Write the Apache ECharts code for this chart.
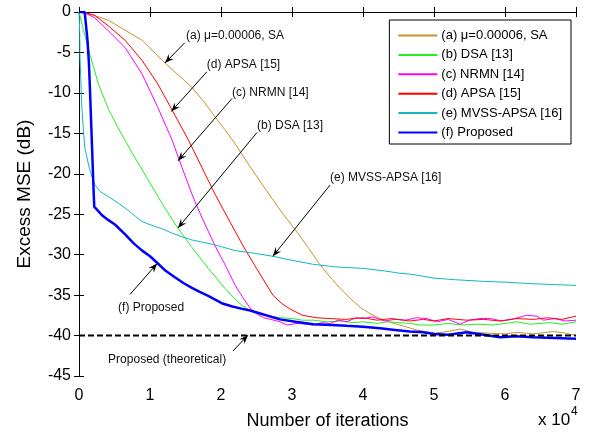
<!DOCTYPE html>
<html>
<head>
<meta charset="utf-8">
<script src="https://cdn.jsdelivr.net/npm/echarts@6/dist/echarts.min.js"></script>
<style>
html, body { margin: 0; padding: 0; background: #fff; }
#main { width: 595px; height: 435px; }
</style>
</head>
<body>
<div id="main"></div>
<script>
// x in units of 10^4 iterations, y = excess MSE in dB
var names = ['(a) \u03bc=0.00006, SA', '(b) DSA [13]', '(c) NRMN [14]', '(d) APSA [15]', '(e) MVSS-APSA [16]', '(f) Proposed'];

var xSA = [0, 0.2, 0.41, 0.6, 0.89, 1.05, 1.21, 1.4, 1.59, 1.75, 1.92, 2.05, 2.2, 2.4, 2.65, 2.85, 3.07, 3.25, 3.39, 3.55, 3.68, 3.82, 3.96, 4.1, 4.24, 4.4, 4.56, 4.75, 5.0, 5.2, 5.37, 5.55, 5.75, 6.0, 6.17, 6.4, 6.68, 6.85, 7.0];
var ySA = [0, -0.4, -1.0, -2.0, -3.5, -4.9, -6.3, -7.8, -9.3, -11.0, -13.0, -14.5, -16.3, -19.0, -22.2, -24.7, -27.2, -29.4, -31.2, -32.9, -34.2, -35.4, -36.5, -37.3, -37.9, -38.4, -38.8, -39.3, -39.7, -39.5, -39.2, -39.6, -39.7, -39.8, -39.6, -39.8, -39.5, -39.7, -40.0];

var xDSA = [0, 0.05, 0.13, 0.27, 0.41, 0.55, 0.65, 0.76, 0.89, 1.03, 1.2, 1.39, 1.59, 1.82, 2.06, 2.2, 2.3, 2.41, 2.55, 2.69, 2.85, 3.0, 3.15, 3.3, 3.5, 3.7, 3.85, 4.0, 4.2, 4.35, 4.52, 4.66, 4.8, 5.0, 5.2, 5.4, 5.6, 5.83, 6.0, 6.17, 6.35, 6.5, 6.63, 6.8, 7.0];
var yDSA = [0, -1.8, -4.5, -8.8, -11.9, -14.3, -15.9, -17.6, -19.5, -21.6, -24.1, -26.7, -29.1, -31.7, -34.2, -35.5, -36.3, -36.9, -37.3, -37.6, -37.8, -37.9, -38.1, -38.1, -38.3, -38.2, -38.4, -38.3, -38.5, -38.3, -38.4, -38.5, -38.7, -38.7, -38.5, -38.7, -38.6, -38.7, -38.5, -38.3, -38.6, -38.5, -38.4, -38.6, -38.3];

var xNRMN = [0, 0.1, 0.22, 0.41, 0.65, 0.89, 1.11, 1.31, 1.45, 1.59, 1.7, 1.82, 1.94, 2.06, 2.2, 2.3, 2.41, 2.5, 2.6, 2.7, 2.83, 2.93, 3.07, 3.2, 3.3, 3.42, 3.54, 3.65, 3.77, 3.9, 4.0, 4.14, 4.3, 4.45, 4.6, 4.75, 4.9, 5.05, 5.2, 5.37, 5.5, 5.65, 5.8, 5.95, 6.1, 6.3, 6.45, 6.54, 6.7, 6.85, 7.0];
var yNRMN = [0, -0.2, -0.7, -2.3, -4.4, -7.7, -11.8, -15.8, -19.2, -22.5, -24.8, -27.1, -29.3, -31.3, -33.8, -35.2, -36.6, -37.3, -37.8, -38.0, -38.3, -38.7, -38.5, -38.6, -38.7, -38.4, -38.5, -38.1, -38.3, -37.8, -37.9, -37.7, -38.2, -38.0, -38.1, -37.8, -37.9, -38.3, -38.0, -38.6, -38.1, -37.9, -37.9, -38.2, -38.0, -37.5, -37.6, -38.1, -37.9, -38.2, -38.1];

var xAPSA = [0, 0.1, 0.22, 0.41, 0.65, 0.89, 1.11, 1.31, 1.54, 1.73, 1.92, 2.13, 2.31, 2.5, 2.73, 2.85, 2.97, 3.15, 3.35, 3.54, 3.75, 4.0, 4.2, 4.4, 4.66, 4.85, 5.0, 5.2, 5.46, 5.7, 5.93, 6.15, 6.4, 6.6, 6.8, 7.0];
var yAPSA = [0, -0.1, -0.4, -1.7, -3.5, -6.0, -8.9, -12.1, -15.8, -19.2, -22.6, -26.0, -28.9, -31.7, -35.0, -36.0, -36.7, -37.5, -37.8, -37.9, -38.0, -37.8, -38.1, -37.9, -38.2, -38.0, -38.2, -37.9, -38.1, -38.0, -38.2, -37.9, -38.0, -37.8, -38.0, -37.6];

var xMVSS = [0, 0.01, 0.014, 0.04, 0.08, 0.15, 0.22, 0.3, 0.41, 0.55, 0.69, 0.8, 0.89, 1.0, 1.17, 1.3, 1.45, 1.6, 1.82, 2.0, 2.2, 2.45, 2.73, 3.0, 3.3, 3.6, 4.0, 4.3, 4.52, 4.66, 5.0, 5.3, 5.7, 6.0, 6.4, 6.7, 7.0];
var yMVSS = [0, -2.5, -5.6, -11.8, -16.7, -19.5, -21.3, -22.2, -22.8, -23.6, -24.5, -25.3, -25.9, -26.3, -26.8, -27.3, -27.8, -28.2, -28.6, -29.0, -29.5, -29.8, -30.2, -30.7, -31.2, -31.5, -31.7, -32.0, -32.3, -32.4, -32.9, -33.1, -33.3, -33.4, -33.6, -33.7, -33.8];

var xProp = [0, 0.08, 0.12, 0.14, 0.155, 0.18, 0.2, 0.215, 0.25, 0.32, 0.41, 0.51, 0.65, 0.77, 0.89, 1.0, 1.1, 1.22, 1.35, 1.47, 1.59, 1.7, 1.82, 2.01, 2.16, 2.3, 2.41, 2.6, 2.83, 3.05, 3.3, 3.55, 3.77, 4.0, 4.24, 4.45, 4.66, 4.85, 5.0, 5.2, 5.46, 5.7, 5.93, 6.15, 6.4, 6.7, 7.0];
var yProp = [0, 0, -3.5, -6.4, -9.7, -15.8, -20.8, -24.1, -24.4, -25.1, -25.7, -26.3, -27.5, -28.6, -29.5, -30.2, -31.0, -32.0, -32.8, -33.5, -34.1, -34.6, -35.1, -36.0, -36.4, -36.7, -36.9, -37.4, -38.0, -38.3, -38.6, -38.7, -38.8, -38.9, -39.1, -39.3, -39.5, -39.6, -39.8, -39.9, -39.6, -39.9, -40.2, -40.1, -40.2, -40.3, -40.4];

var xTheory = [0, 7];
var yTheory = [-40, -40];

var colors = ['#c8922c', '#22ee22', '#ff00ff', '#ff0000', '#10b8c0', '#0000ff'];

// annotation: text, text anchor (left, middle), arrow start, arrow tip -- in data units
var annotations = [
    ['(a) \u03bc=0.00006, SA', [1.507, -2.95], [1.49, -3.8], [1.21, -6.3]],
    ['(d) APSA [15]', [1.80, -6.5], [1.80, -7.4], [1.30, -12.3]],
    ['(c) NRMN [14]', [2.155, -10.0], [2.155, -10.7], [1.394, -18.4]],
    ['(b) DSA [13]', [2.507, -14.1], [2.507, -14.9], [1.394, -26.7]],
    ['(e) MVSS-APSA [16]', [3.535, -20.5], [3.535, -21.4], [2.73, -30.2]],
    ['(f) Proposed', [0.55, -36.5], [0.72, -34.9], [1.10, -31.1]],
    ['Proposed (theoretical)', [0.41, -43.0], [2.17, -41.9], [2.38, -39.95]]
];

var FONT = '"Liberation Sans", Arial, sans-serif';

function pairs(xs, ys) {
    return xs.map(function (x, i) { return [x, ys[i]]; });
}

var allX = [xSA, xDSA, xNRMN, xAPSA, xMVSS, xProp];
var allY = [ySA, yDSA, yNRMN, yAPSA, yMVSS, yProp];

var series = names.map(function (n, i) {
    return {
        name: n,
        type: 'line',
        symbol: 'none',
        data: pairs(allX[i], allY[i]),
        lineStyle: { color: colors[i], width: i == 5 ? 2.5 : 1 },
        itemStyle: { color: colors[i] },
        z: 2 + i
    };
});
series.push({
    name: 'Proposed (theoretical)',
    type: 'line',
    symbol: 'none',
    data: pairs(xTheory, yTheory),
    lineStyle: { color: '#000', width: 2, type: [6, 3] },
    z: 10
});

var chart = echarts.init(document.getElementById('main'), null, { renderer: 'canvas' });

var axisBase = {
    axisLine: { lineStyle: { color: '#000', width: 1 } },
    axisTick: { inside: true, length: 5, lineStyle: { color: '#000' } },
    splitLine: { show: false }
};

var option = {
    animation: false,
    backgroundColor: '#fff',
    textStyle: { fontFamily: FONT },
    grid: { left: 79, right: 19, top: 12, bottom: 57 },
    legend: {
        data: names,
        orient: 'vertical',
        right: 24,
        top: 20,
        itemWidth: 39,
        itemHeight: 12,
        itemGap: 6.4,
        padding: [9, 9, 5, 8],
        backgroundColor: '#fff',
        borderColor: '#000',
        borderWidth: 1,
        itemStyle: { opacity: 0 },
        textStyle: { fontSize: 13, color: '#000', fontFamily: FONT, padding: [0, 0, 0, -1] }
    },
    xAxis: [Object.assign({
        type: 'value', min: 0, max: 7, interval: 1,
        name: 'Number of iterations', nameLocation: 'middle', nameGap: 36,
        nameTextStyle: { fontSize: 18, color: '#000', fontFamily: FONT },
        axisLabel: { fontSize: 16, color: '#000', margin: 12, fontFamily: FONT }
    }, axisBase), Object.assign({
        type: 'value', min: 0, max: 7, interval: 1, position: 'top',
        axisLabel: { show: false }
    }, axisBase)],
    yAxis: [Object.assign({
        type: 'value', min: -45, max: 0, interval: 5,
        name: 'Excess MSE (dB)', nameLocation: 'middle', nameGap: 45,
        nameTextStyle: { fontSize: 19, color: '#000', fontFamily: FONT },
        axisLabel: { fontSize: 16, color: '#000', margin: 8, fontFamily: FONT }
    }, axisBase), Object.assign({
        type: 'value', min: -45, max: 0, interval: 5, position: 'right',
        axisLabel: { show: false }
    }, axisBase)],
    series: series
};

chart.setOption(option);

// annotations: arrows and labels, placed through the chart's own scales
var graphics = [];
annotations.forEach(function (a) {
    var tp = chart.convertToPixel({ gridIndex: 0 }, a[1]);
    var p0 = chart.convertToPixel({ gridIndex: 0 }, a[2]);
    var p1 = chart.convertToPixel({ gridIndex: 0 }, a[3]);
    graphics.push({
        type: 'text', x: tp[0], y: tp[1], z: 100,
        style: { text: a[0], font: '12px ' + FONT, fill: '#111', textVerticalAlign: 'middle', verticalAlign: 'middle' }
    });
    graphics.push({
        type: 'line', z: 100,
        shape: { x1: p0[0], y1: p0[1], x2: p1[0], y2: p1[1] },
        style: { stroke: '#000', lineWidth: 1 }
    });
    var dx = p1[0] - p0[0], dy = p1[1] - p0[1];
    var len = Math.sqrt(dx * dx + dy * dy);
    var ux = dx / len, uy = dy / len, nx = -uy, ny = ux;
    var L = 9, W = 3.5;
    graphics.push({
        type: 'polygon', z: 100,
        shape: {
            points: [
                [p1[0], p1[1]],
                [p1[0] - ux * L + nx * W, p1[1] - uy * L + ny * W],
                [p1[0] - ux * L * 0.65, p1[1] - uy * L * 0.65],
                [p1[0] - ux * L - nx * W, p1[1] - uy * L - ny * W]
            ]
        },
        style: { fill: '#000' }
    });
});

// x 10^4 multiplier
graphics.push({
    type: 'text', x: 538, y: 429, z: 100,
    style: { text: 'x 10', font: '17px ' + FONT, fill: '#000', verticalAlign: 'bottom', textVerticalAlign: 'bottom' }
});
graphics.push({
    type: 'text', x: 571, y: 418, z: 100,
    style: { text: '4', font: '12px ' + FONT, fill: '#000', verticalAlign: 'bottom', textVerticalAlign: 'bottom' }
});

chart.setOption({ graphic: graphics });
</script>
</body>
</html>
